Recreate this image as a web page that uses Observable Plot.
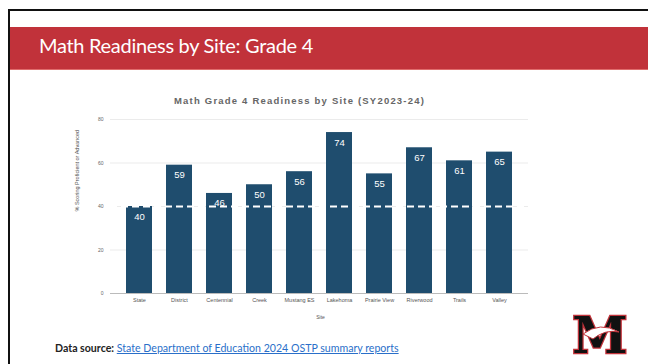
<!DOCTYPE html>
<html>
<head>
<meta charset="utf-8">
<script src="https://cdn.jsdelivr.net/npm/d3@7"></script>
<script src="https://cdn.jsdelivr.net/npm/@observablehq/plot@0.6"></script>
<style>
  html, body { margin: 0; padding: 0; background: #fff; }
  body { width: 648px; height: 364px; position: relative; overflow: hidden; font-family: Lato, "Open Sans", sans-serif; }
  #frameTop { position: absolute; left: 8px; top: 9px; width: 640px; height: 2px; background: #111; }
  #frameLeft { position: absolute; left: 8px; top: 9px; width: 2px; height: 355px; background: #111; }
  #band { position: absolute; left: 10px; top: 27px; width: 638px; height: 42px; background: #c1323a; border-bottom: 1px solid #e06c6c; }
  #slideTitle { position: absolute; left: 39px; top: 33px; color: #fff; font-family: Lato, sans-serif; font-size: 20px; letter-spacing: -0.3px; white-space: nowrap; }
  #chartTitle { position: absolute; left: 174px; top: 95px; color: #666; font-family: "Liberation Sans", Arial, sans-serif; font-weight: bold; font-size: 9.5px; letter-spacing: 1.2px; white-space: nowrap; }
  #plot { position: absolute; left: 0; top: 90px; }
  #source { position: absolute; left: 55px; top: 342px; font-family: Lato, sans-serif; font-size: 10.6px; white-space: nowrap; color: #222; }
  #source b { font-weight: bold; }
  #source a { color: #2a6fc9; text-decoration: underline; }
  #logo { position: absolute; left: 568px; top: 294px; }
</style>
</head>
<body>
<div id="frameTop"></div>
<div id="frameLeft"></div>
<div id="band"></div>
<div id="slideTitle">Math Readiness by Site: Grade 4</div>
<div id="chartTitle">Math Grade 4 Readiness by Site (SY2023-24)</div>
<div id="plot"></div>
<div id="source"><b>Data source:</b> <a href="#">State Department of Education 2024 OSTP summary reports</a></div>
<svg id="logo" width="64" height="72" viewBox="0 0 64 72">
  <text x="32" y="59" text-anchor="middle" font-family="'DejaVu Serif', serif" font-weight="bold" font-size="50" fill="#111" stroke="#c1323a" stroke-width="2.5" paint-order="stroke">M</text>
  <path d="M15 40 Q32 27 51 38 Q37 35 25 45 Z" fill="#fff" stroke="#c1323a" stroke-width="1"/>
</svg>
<script>
const sites = ["State", "District", "Centennial", "Creek", "Mustang ES", "Lakehoma", "Prairie View", "Riverwood", "Trails", "Valley"];
const values = [40, 59, 46, 50, 56, 74, 55, 67, 61, 65];
const stateAverage = 40;
const yTicks = [0, 20, 40, 60, 80];

const data = sites.map((site, i) => ({site, value: values[i]}));

const chart = Plot.plot({
  width: 648,
  height: 235,
  marginLeft: 110,
  marginRight: 120,
  marginTop: 29,
  marginBottom: 32,
  style: {fontFamily: "'Liberation Sans', Arial, sans-serif", background: "transparent"},
  x: {domain: sites, padding: 0.345, label: null, tickSize: 0, tickPadding: 5},
  y: {domain: [0, 80], ticks: yTicks, label: null, tickSize: 0, tickPadding: 7},
  marks: [
    Plot.gridY(yTicks.filter(d => d > 0), {stroke: "#ddd", strokeOpacity: 1, strokeWidth: 0.6}),
    Plot.barY(data, {x: "site", y: "value", fill: "#1f4d6e"}),
    Plot.ruleY([0], {stroke: "#bbb", strokeWidth: 1}),
    Plot.ruleY([stateAverage], {stroke: "#fff", strokeWidth: 2.2, strokeDasharray: "7,4"}),
    Plot.text(data, {x: "site", y: "value", text: d => String(d.value), dy: 10, fill: "#fff", fontSize: 9.5}),
    Plot.axisX({tickSize: 0, tickPadding: 5, fontSize: 5.5, fill: "#555", label: null}),
    Plot.axisY({ticks: yTicks, tickSize: 0, tickPadding: 7, fontSize: 5, fill: "#666", label: null}),
    Plot.text(["% Scoring Proficient or Advanced"], {frameAnchor: "left", dx: -33, dy: 5, rotate: -90, fontSize: 5.5, fill: "#555"}),
    Plot.text(["Site"], {frameAnchor: "bottom", dy: 25, dx: 1, fontSize: 5, fill: "#555"})
  ]
});
document.getElementById("plot").appendChild(chart);
</script>
</body>
</html>
